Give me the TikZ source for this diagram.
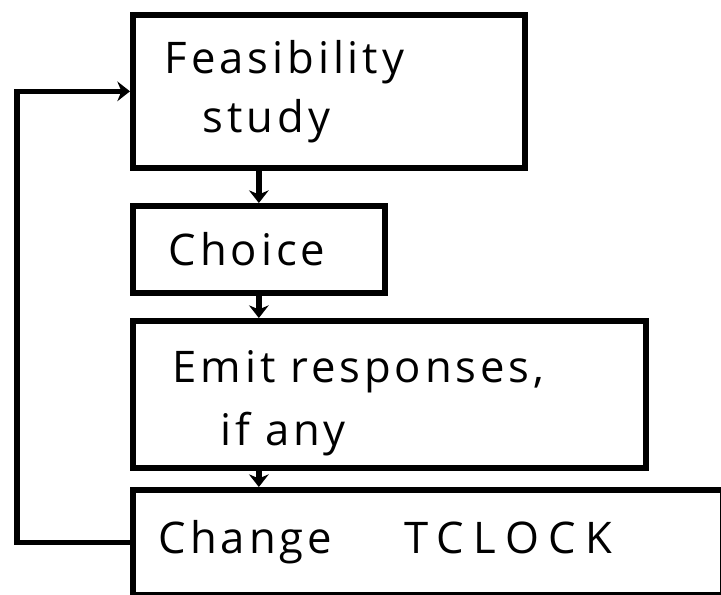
\documentclass[tikz,border=0pt]{standalone}
\usepackage{fontspec}
\setmainfont{Open Sans}[LetterSpace=9]
\usetikzlibrary{arrows.meta}

\tikzset{
  stage/.style={draw, line width=4pt, rectangle, anchor=north west,
    align=left, inner sep=0pt, font=\fontsize{31}{44}\selectfont},
  arr/.style={line width=4pt, -{Stealth[length=9pt,width=14pt]}}
}

\begin{document}
\begin{tikzpicture}[x=0.025cm,y=-0.025cm]
  \useasboundingbox (0,0) rectangle (721,594);
  % the four stages, top to bottom
  \node[stage, minimum width=9.8cm, minimum height=3.825cm, text width=9.8cm] (feas) at (130,12)
    {\hspace{0.8cm}Feasibility\\[-2pt]\hspace{1.75cm}study};
  \node[stage, minimum width=6.3cm, minimum height=2.175cm, text width=6.3cm] (choice) at (130,203)
    {\hspace{0.9cm}Choice};
  \node[stage, minimum width=12.825cm, minimum height=3.675cm, text width=12.825cm] (emit) at (130,318)
    {\\[-9pt]\hspace{1cm}Emit responses,\\[1pt]\hspace{2.2cm}if any};
  \node[stage, minimum width=14.75cm, minimum height=2.625cm, text width=14.75cm] (tclock) at (130,487)
    {\raisebox{-5pt}{\hspace{0.65cm}Change\hspace{1.8cm}{\addfontfeatures{LetterSpace=22}TCLOCK}}};
  % arrows down
  \draw[arr] (choice.north |- feas.south) -- (choice.north);
  \draw[arr] (choice.south) -- (choice.south |- emit.north);
  \draw[arr] (choice.south |- emit.south) -- (choice.south |- tclock.north);
  % loop back
  \draw[arr] (tclock.west) -- ++(-113,0) |- (feas.west);
\end{tikzpicture}
\end{document}
